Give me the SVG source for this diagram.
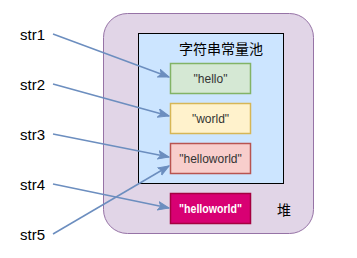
<svg xmlns="http://www.w3.org/2000/svg" width="357" height="258" viewBox="0 0 357 258">
<style>
.lbl{font-family:"Liberation Sans",Arial,sans-serif;font-size:15px;fill:#000;}
.cjk{font-family:"Liberation Sans","Noto Sans CJK SC",sans-serif;font-size:14px;fill:#000;}
.bt{font-family:"Liberation Sans",Arial,sans-serif;font-size:12px;fill:#333;}
.bw{font-family:"Liberation Sans",Arial,sans-serif;font-size:12px;fill:#fff;font-weight:bold;}
.edge{fill:none;stroke:#6c8ebf;stroke-width:1.5;}
</style>
<defs>
<marker id="arr" markerUnits="userSpaceOnUse" markerWidth="12" markerHeight="10" viewBox="0 0 12 10" refX="11" refY="5" orient="auto">
<path d="M0,0.8 L11,5 L0,9.2 L2.8,5 Z" fill="#6c8ebf" stroke="#6c8ebf" stroke-width="1"/>
</marker>
</defs>
<g id="heap">
<rect x="103.5" y="13.5" width="210" height="220" rx="24" ry="24" fill="#e1d5e7" stroke="#9673a6" stroke-width="1"/>
<text class="cjk" x="284" y="215" text-anchor="middle" font-size="15">堆</text>
</g>
<g id="pool">
<rect x="138.5" y="33.5" width="145" height="150" fill="#cce5ff" stroke="#000" stroke-width="1"/>
<text class="cjk" x="221" y="54" text-anchor="middle">字符串常量池</text>
</g>
<g id="hello">
<rect x="170.5" y="63.5" width="80" height="30" fill="#d5e8d4" stroke="#82b366" stroke-width="1.5"/>
<text class="bt" x="210.5" y="82.5" text-anchor="middle">"hello"</text>
</g>
<g id="world">
<rect x="170.5" y="103.5" width="80" height="30" fill="#fff2cc" stroke="#d6b656" stroke-width="1.5"/>
<text class="bt" x="210.5" y="122.5" text-anchor="middle">"world"</text>
</g>
<g id="helloworld-pool">
<rect x="170.5" y="143.5" width="80" height="30" fill="#f8cecc" stroke="#b85450" stroke-width="1.5"/>
<text class="bt" x="210.5" y="162.5" text-anchor="middle">"helloworld"</text>
</g>
<g id="helloworld-heap">
<rect x="170.5" y="193.5" width="80" height="30" fill="#d80073" stroke="#a50040" stroke-width="1.5"/>
<text class="bw" x="210.5" y="212.5" text-anchor="middle" textLength="63" lengthAdjust="spacingAndGlyphs">"helloworld"</text>
</g>
<g id="str1"><text class="lbl" x="20" y="39.5">str1</text></g>
<g id="str2"><text class="lbl" x="20" y="89.5">str2</text></g>
<g id="str3"><text class="lbl" x="20" y="139.5">str3</text></g>
<g id="str4"><text class="lbl" x="20" y="189.5">str4</text></g>
<g id="str5"><text class="lbl" x="20" y="239.5">str5</text></g>
<g id="connectors">
<line class="edge" x1="53" y1="34" x2="169" y2="77" marker-end="url(#arr)"/>
<line class="edge" x1="53" y1="84" x2="169" y2="116" marker-end="url(#arr)"/>
<line class="edge" x1="53" y1="134" x2="169" y2="157" marker-end="url(#arr)"/>
<line class="edge" x1="53" y1="184" x2="169" y2="208" marker-end="url(#arr)"/>
<line class="edge" x1="53" y1="234" x2="169" y2="166" marker-end="url(#arr)"/>
</g>
</svg>
